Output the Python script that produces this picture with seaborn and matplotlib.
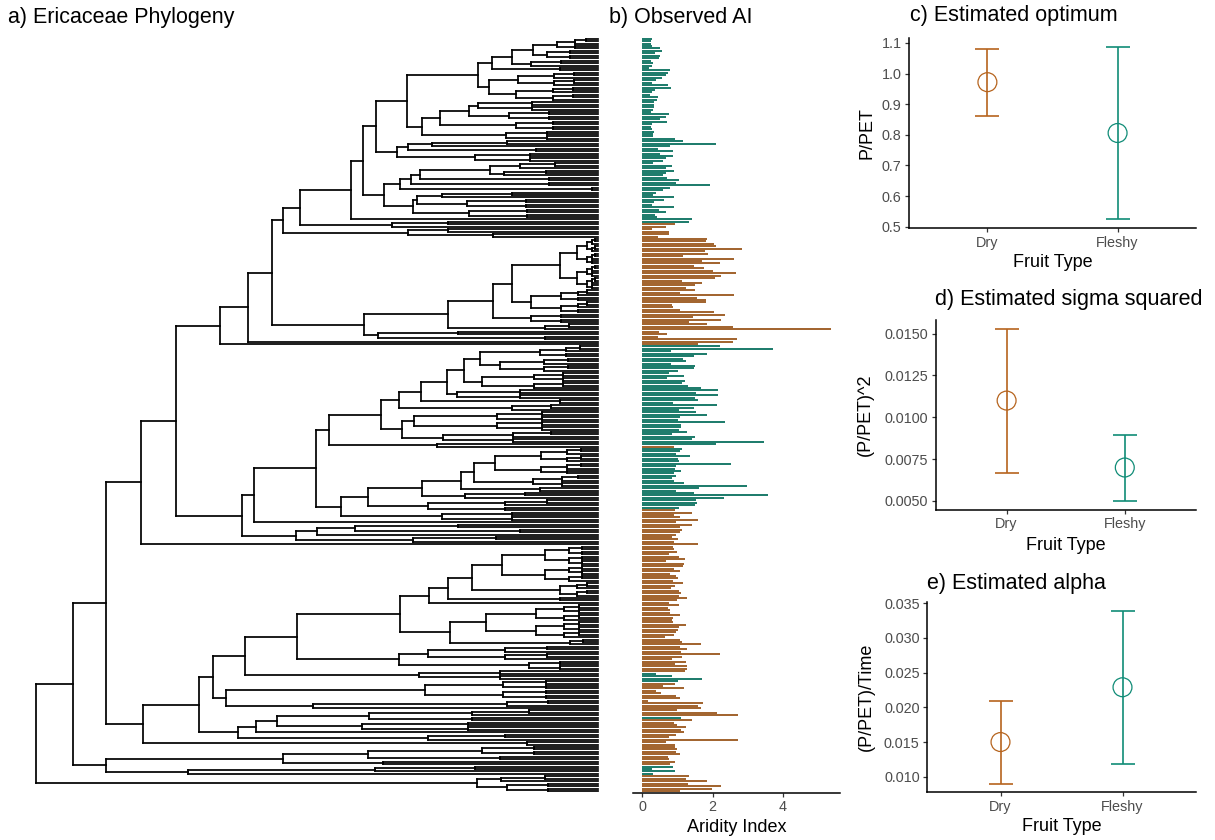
import numpy as np
import pandas as pd
import matplotlib
matplotlib.use("Agg")
import matplotlib.pyplot as plt
from matplotlib.collections import LineCollection
import seaborn as sns

# ---------------- data ----------------
FRUIT_TYPES = ["Dry", "Fleshy"]
PAL = {"Dry": "#B6641E", "Fleshy": "#108C77"}

# panel c/d/e estimates (mean, lower, upper)
OPT_MEAN = [0.972, 0.806]
OPT_LO = [0.862, 0.524]
OPT_HI = [1.081, 1.088]

SIG_MEAN = [0.0110, 0.0070]
SIG_LO = [0.00665, 0.0050]
SIG_HI = [0.0153, 0.00895]

ALPHA_MEAN = [0.0150, 0.0229]
ALPHA_LO = [0.0090, 0.0119]
ALPHA_HI = [0.0209, 0.0339]

# observed aridity index per tip (top to bottom)
AI_VALUES = [
    0.27, 0.23, 0.23, 0.27, 0.49, 0.55, 0.36, 0.49, 0.47, 0.25,
    0.29, 0.27, 0.19, 0.80, 0.72, 0.67, 0.56, 0.39, 0.27, 0.73,
    0.81, 0.35, 0.27, 0.21, 0.43, 0.42, 0.33, 0.33, 0.33, 0.31,
    0.25, 0.75, 0.66, 0.50, 0.71, 0.26, 0.23, 0.27, 0.32, 0.30,
    0.30, 0.92, 1.17, 2.11, 0.80, 0.43, 0.87, 0.51, 0.86, 0.67,
    0.60, 0.29, 0.83, 0.67, 0.91, 0.67, 0.58, 0.69, 1.05, 0.97,
    1.93, 0.80, 0.60, 0.39, 0.31, 0.89, 0.61, 0.34, 0.26, 0.90,
    0.47, 0.66, 0.36, 0.42, 1.42, 1.32, 0.94, 0.66, 0.27,
    0.76, 0.77, 0.44, 1.83, 1.81, 2.05, 2.10, 2.83, 1.78, 1.88,
    1.15, 2.62, 1.69, 2.22, 1.47, 1.76, 2.01, 2.66, 2.25, 2.07,
    1.14, 1.69, 1.49, 1.23, 1.49, 1.06, 2.62, 1.55, 1.81, 1.81,
    0.84, 0.86, 1.07, 2.03, 2.36, 1.43, 2.25, 1.32, 1.83, 2.59,
    5.37, 0.47, 0.69, 0.44, 2.70, 2.59, 1.60, 2.22, 3.73, 0.81,
    1.85, 1.48, 1.15, 1.23, 0.82, 1.50, 1.47, 1.02, 0.75, 1.20,
    0.70, 1.21, 1.13, 1.31, 1.66, 2.16, 1.53, 2.16, 1.49, 1.58,
    0.88, 2.12, 1.47, 1.05, 1.54, 1.84, 1.08, 1.02, 2.36, 1.09,
    1.09, 1.05,
    1.28, 0.84, 1.49, 1.41, 3.46, 2.11, 0.89, 1.12, 1.08, 0.97,
    1.35, 1.02, 1.05, 2.53, 0.95, 0.92, 1.09, 0.90, 0.97, 0.85,
    0.91, 1.18, 2.99, 1.61, 0.95, 1.46, 3.58, 2.32, 1.52, 1.55,
    1.49, 1.04, 0.93, 1.42, 0.91, 1.06, 1.60, 0.97, 1.41, 1.06,
    1.12, 1.08, 0.95, 0.84, 1.02, 0.90, 1.60, 0.87, 0.90, 1.00,
    0.77, 1.04, 1.21, 0.66, 1.20, 1.17, 0.90, 1.07, 0.79, 0.95,
    1.01, 0.88, 1.15, 0.94, 0.82, 1.05, 1.11, 1.04, 1.26, 0.99,
    0.75, 1.04, 0.73, 0.78, 0.79, 1.07, 0.87, 0.83, 0.87, 1.25,
    1.04,
    1.02, 0.95, 0.89, 0.64, 1.06, 1.13, 1.66, 1.08, 1.27, 1.11,
    2.20, 1.13, 0.84, 1.25, 0.92, 1.26, 1.26, 1.21, 0.40, 0.85,
    1.69, 1.02, 0.92, 0.58, 1.19, 0.39, 0.54, 0.96, 1.08, 0.15,
    1.73, 1.60, 1.68, 0.99, 2.12, 2.73, 1.09, 1.42, 0.89, 0.99,
    1.24, 1.09, 1.19, 0.97, 0.77, 2.73, 0.68, 0.93, 0.93, 0.99,
    0.95, 1.08, 0.72, 0.75, 0.93, 0.80, 0.88, 0.26, 0.93, 0.31,
    1.34, 1.23, 1.83, 1.30, 2.24, 1.98, 1.08,
]

# fruit type of tips, run-length coded (top to bottom)
FRUIT_RUNS = [("Fleshy", 76), ("Dry", 50), ("Fleshy", 41), ("Dry", 1),
              ("Fleshy", 25), ("Dry", 67), ("Fleshy", 4), ("Dry", 14),
              ("Fleshy", 1), ("Dry", 19), ("Fleshy", 4), ("Dry", 7)]

# phylogeny: [node depth, child, child]; (n, crown depth) = small clade; 1 = tip
TIP_DEPTH = 562
CLADE_P = [184,
    [212,
        [236,
            [247,
                [264,
                    [315,
                        [327,
                            [340,
                                [371,
                                    [442,
                                        [456, [476, [497, (5, 521), (4, 511)], (3, 495)], (2, 524)],
                                        [453, (6, 482), (6, 480)]],
                                    [386, [404, [433, (4, 442), (4, 473)], (4, 480)], (4, 470)]],
                                [361, [372, (3, 396), (2, 500)], (4, 439)]],
                            [348,
                                [364, [375, [384, [454, (3, 484), (3, 468)], (2, 513)], (2, 513)], (2, 556)],
                                [377, [381, (3, 406), (4, 431)], (4, 433)]]],
                        1],
                    [356, (2, 412), 1]],
                [372, (2, 412), (2, 457)]],
            [328,
                [412, [457, [476, (21, 524), (10, 495)], (4, 495)], (3, 509)],
                [342, (2, 422), (2, 509)]]],
        1],
    1]
CLADE_Q = [206,
    [218,
        [280,
            [293,
                [345,
                    [363,
                        [385,
                            [411, [428, [444, (5, 504), (6, 464)], (7, 446)], (4, 421)],
                            (2, 524)],
                        (3, 476)],
                    [366, (8, 378), (5, 407)]],
                (2, 401)],
            [305,
                [332,
                    [386,
                        [425, [438, (11, 459), (5, 497)], (2, 504)],
                        (3, 429)],
                    (5, 392)],
                (4, 406)]],
        1],
    [260, [281, [319, (2, 422), (2, 484)], 1], (3, 377)]]
CLADE_E = [107,
    [163,
        [177,
            [209,
                [261,
                    [364,
                        [393, [412, [436, (15, 466), (6, 524)], (2, 524)], 1],
                        [414, (14, 450), (3, 534)]],
                    [363, (6, 392), (4, 493)]],
                (4, 383)],
            [190, (8, 389), [277, (3, 471), 1]]],
        [202, [220, [241, (5, 333), (4, 326)], 1], (3, 392)]],
    (2, 491)]
CLADE_C = [70, [247, [332, (4, 446), (2, 464)], (2, 347)], [152, (3, 339), 1]]
CLADE_BOTTOM = [441, (3, 465), (4, 471)]
TREE = [0, [37, [70, [105, [140, CLADE_P, CLADE_Q], 1], CLADE_E], CLADE_C], CLADE_BOTTOM]


# ---------------- helpers ----------------
def layout(node, parent_depth, segs, counter):
    if node == 1 or (isinstance(node, tuple) and node[0] == 1):
        y = counter[0]
        counter[0] += 1
        segs.append([(parent_depth, y), (TIP_DEPTH, y)])
        return y
    if isinstance(node, tuple):
        n, d = node
        sub = d + (TIP_DEPTH - d) * 0.45
        kids = [((n + 1) // 2, sub), (n // 2, sub)]
    else:
        d = node[0]
        kids = node[1:]
    ys = [layout(k, d, segs, counter) for k in kids]
    segs.append([(d, min(ys)), (d, max(ys))])
    y = (min(ys) + max(ys)) / 2.0
    segs.append([(parent_depth, y), (d, y)])
    return y


sns.set_theme(style="white")
plt.rcParams['font.family'] = ['Liberation Sans', 'DejaVu Sans']

W, H = 1215, 840
fig = plt.figure(figsize=(W / 100, H / 100), dpi=100)


def rect(l, r, t, b):
    return [l / W, 1 - b / H, (r - l) / W, (b - t) / H]


fruit = []
for lab, k in FRUIT_RUNS:
    fruit += [lab] * k
n_tips = len(AI_VALUES)
Y_LIM = (n_tips - 1 + 0.7, -0.7)

TICK_SIZE = 10.4
LAB_SIZE = 13
TITLE_SIZE = 15.5

# ---------------- a) tree ----------------
ax_t = fig.add_axes(rect(30, 600, 37, 792.7))
segs = []
layout(TREE, 0, segs, [0])
ax_t.add_collection(LineCollection(segs, colors="black", linewidths=1.25,
                                   capstyle="projecting"))
ax_t.set_xlim(-6, 564)
ax_t.set_ylim(*Y_LIM)
ax_t.axis("off")

# ---------------- b) bars ----------------
ax_b = fig.add_axes(rect(633, 840, 37, 792.7))
df_ai = pd.DataFrame({"tip": np.arange(n_tips), "ai": AI_VALUES, "fruit": fruit})
sns.barplot(data=df_ai, x="ai", y="tip", hue="fruit", palette=PAL, orient="h",
            width=0.82, errorbar=None, legend=False, dodge=False, linewidth=0, ax=ax_b)
ax_b.set_ylim(*Y_LIM)
ax_b.set_xlim(-0.27, 5.64)
ax_b.set_xticks([0, 2, 4])
ax_b.set_xticklabels(["0", "2", "4"])
ax_b.set_yticks([])
ax_b.set_ylabel("")
for s in ["left", "right", "top"]:
    ax_b.spines[s].set_visible(False)
ax_b.spines["bottom"].set_color("black")
ax_b.spines["bottom"].set_linewidth(1.1)
ax_b.tick_params(axis="x", direction="out", length=3, width=0.9, color="#333333",
                 labelsize=TICK_SIZE, labelcolor="#4D4D4D", pad=2.5, bottom=True)
ax_b.set_xlabel("Aridity Index", fontsize=LAB_SIZE, color="black", va="center")
ax_b.xaxis.set_label_coords(0.5, -0.0467)


# ---------------- c/d/e) estimates ----------------
def estimate_panel(box, mean, lo, hi, ticks, fmt, ylabel, ylab_x, xlab_y):
    ax = fig.add_axes(box)
    df = pd.DataFrame({"fruit": FRUIT_TYPES, "mean": mean, "lo": lo, "hi": hi})
    sns.scatterplot(data=df, x="fruit", y="mean", hue="fruit", palette=PAL, s=185,
                    legend=False, ax=ax, zorder=3, linewidth=0.9)
    pts = ax.collections[-1]
    fc = pts.get_facecolors()
    pts.set_edgecolors(fc)
    pts.set_facecolors("none")
    for _, r in df.iterrows():
        ax.errorbar(x=[r["fruit"]], y=[r["mean"]],
                    yerr=[[r["mean"] - r["lo"]], [r["hi"] - r["mean"]]],
                    fmt="none", ecolor=PAL[r["fruit"]], elinewidth=1.2,
                    capsize=8.6, capthick=1.2, zorder=2)
    span = max(hi) - min(lo)
    ax.set_ylim(min(lo) - 0.05 * span, max(hi) + 0.05 * span)
    ax.set_xlim(-0.6, 1.6)
    ax.set_yticks(ticks)
    ax.set_yticklabels([fmt.format(t) for t in ticks])
    for s in ["right", "top"]:
        ax.spines[s].set_visible(False)
    for s in ["left", "bottom"]:
        ax.spines[s].set_color("black")
        ax.spines[s].set_linewidth(1.1)
    ax.tick_params(axis="both", direction="out", length=3, width=0.9, color="#333333",
                   labelsize=TICK_SIZE, labelcolor="#4D4D4D", pad=2.5, left=True, bottom=True)
    ax.set_xlabel("Fruit Type", fontsize=LAB_SIZE, color="black", va="center")
    ax.set_ylabel(ylabel, fontsize=LAB_SIZE, color="black", va="center")
    ax.xaxis.set_label_coords(0.5, xlab_y)
    ax.yaxis.set_label_coords(ylab_x, 0.5)
    return ax


estimate_panel(rect(909.3, 1195.7, 38, 228), OPT_MEAN, OPT_LO, OPT_HI,
               [0.5, 0.6, 0.7, 0.8, 0.9, 1.0, 1.1], "{:.1f}", "P/PET", -0.148, -0.179)
estimate_panel(rect(935.7, 1195.7, 320, 509.6), SIG_MEAN, SIG_LO, SIG_HI,
               [0.005, 0.0075, 0.01, 0.0125, 0.015], "{:.4f}", "(P/PET)^2", -0.272, -0.187)
estimate_panel(rect(927.3, 1195.7, 602.3, 792.3), ALPHA_MEAN, ALPHA_LO, ALPHA_HI,
               [0.010, 0.015, 0.020, 0.025, 0.030, 0.035], "{:.3f}", "(P/PET)/Time",
               -0.226, -0.181)

# ---------------- titles ----------------
TITLES = [("a) Ericaceae Phylogeny", 8, 18), ("b) Observed AI", 609, 18),
          ("c) Estimated optimum", 910, 16), ("d) Estimated sigma squared", 935, 300),
          ("e) Estimated alpha", 927, 583)]
for txt, x, y in TITLES:
    fig.text(x / W, 1 - y / H, txt, fontsize=TITLE_SIZE, color="black", ha="left", va="center")

fig.savefig("out.png", dpi=100)
